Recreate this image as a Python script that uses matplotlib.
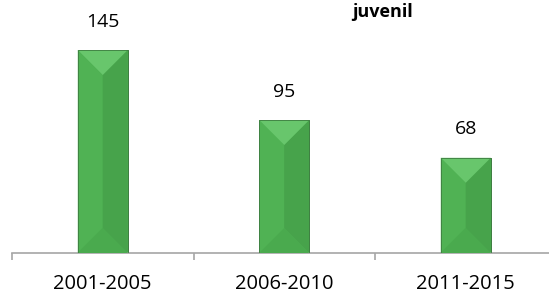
import numpy as np
import matplotlib.pyplot as plt
from matplotlib.patches import Polygon

# data
periods = ['2001-2005', '2006-2010', '2011-2015']
values = [145, 95, 68]
title = 'juvenil'

plt.rcParams['font.family'] = ['Open Sans', 'DejaVu Sans']

fig = plt.figure(figsize=(5.49, 2.93), dpi=100)
W, H = 549, 293
# plot area: left at x=12, category width 181.5 px, baseline at y=253
ax = fig.add_axes([12 / W, 40 / H, 3 * 181.5 / W, 253 / H])
ax.set_xlim(-0.5, 2.5)
ax.set_ylim(0, 253 / 1.4)

x = np.arange(len(values))
bars = ax.bar(x, values, width=0.275, color='#4cae50', edgecolor='#3f7f42',
              linewidth=0.6, zorder=2)

# bevel look: top/bottom triangles, left/right halves
for b in bars:
    x0, y0 = b.get_x(), b.get_y()
    w, h = b.get_width(), b.get_height()
    xm = x0 + w / 2
    x1, y1 = x0 + w, y0 + h
    d = (w / 2) * 181.5 / 1.4
    d = min(d, h / 2)
    left = [(x0, y0), (xm, y0 + d), (xm, y1 - d), (x0, y1)]
    right = [(x1, y0), (xm, y0 + d), (xm, y1 - d), (x1, y1)]
    top = [(x0, y1), (x1, y1), (xm, y1 - d)]
    bot = [(x0, y0), (x1, y0), (xm, y0 + d)]
    ax.add_patch(Polygon(left, closed=True, color='#50b254', lw=0, zorder=3))
    ax.add_patch(Polygon(right, closed=True, color='#47a34b', lw=0, zorder=3))
    ax.add_patch(Polygon(top, closed=True, color='#68c66c', lw=0, zorder=3))
    ax.add_patch(Polygon(bot, closed=True, color='#4aaa4e', lw=0, zorder=3))
    ax.add_patch(plt.Rectangle((x0, y0), w, h, fill=False, edgecolor='#3d7d40',
                               lw=0.6, zorder=4))

for xi, v in zip(x, values):
    ax.annotate(str(v), (xi, v), xytext=(0, 14), textcoords='offset points',
                ha='center', va='bottom', fontsize=14, color='#000000')

for s in ['top', 'right', 'left']:
    ax.spines[s].set_visible(False)
ax.spines['bottom'].set_color('#a6a6a6')
ax.spines['bottom'].set_linewidth(1.2)
ax.set_yticks([])
ax.set_xticks([-0.5, 0.5, 1.5, 2.5], minor=True)
ax.set_xticks(x)
ax.set_xticklabels(periods, fontsize=14.5)
ax.tick_params(axis='x', which='major', length=0, pad=15)
ax.tick_params(axis='x', which='minor', length=5, color='#a6a6a6', width=1.2)

fig.text(383 / W, 1 - 17 / H, title, ha='center', va='baseline',
         fontsize=13, fontweight='bold')

fig.savefig('out.png', dpi=100)
